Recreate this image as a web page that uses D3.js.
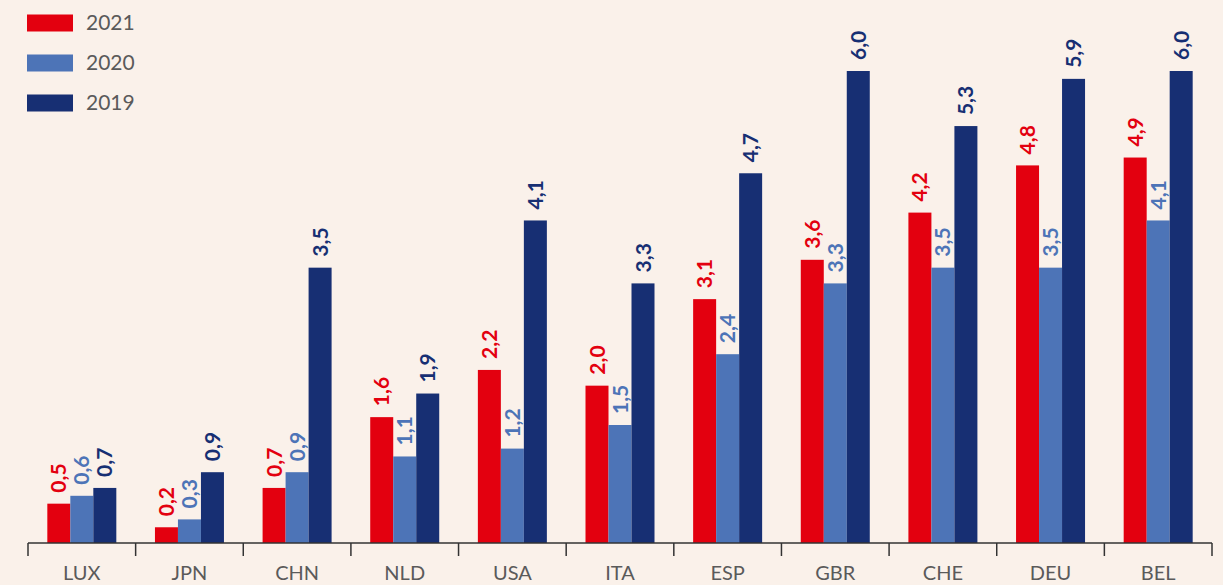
<!DOCTYPE html>
<html><head><meta charset="utf-8">
<script src="https://cdn.jsdelivr.net/npm/d3@7"></script>
<style>
html,body{margin:0;padding:0;background:#faf1ea;}
svg{display:block;}
</style></head>
<body>
<svg id="chart" width="1223" height="585"></svg>
<script>
const categories = ["LUX","JPN","CHN","NLD","USA","ITA","ESP","GBR","CHE","DEU","BEL"];
const seriesNames = ["2021","2020","2019"];
const values2021 = [0.5,0.2,0.7,1.6,2.2,2.0,3.1,3.6,4.2,4.8,4.9];
const values2020 = [0.6,0.3,0.9,1.1,1.2,1.5,2.4,3.3,3.5,3.5,4.1];
const values2019 = [0.7,0.9,3.5,1.9,4.1,3.3,4.7,6.0,5.3,5.9,6.0];
const colors = {"2021":"#e3000f","2020":"#4d74b7","2019":"#172f73"};

const seriesValues = {"2021":values2021,"2020":values2020,"2019":values2019};
const svg = d3.select("#chart");
svg.append("rect").attr("width",1223).attr("height",585).attr("fill","#faf1ea");

const baseY = 543;
const x0 = d3.scaleBand().domain(categories).range([28,1212]).padding(0);
const x1 = d3.scaleBand().domain(seriesNames).range([0,x0.bandwidth()]).paddingInner(0).paddingOuter(0.84);
const y = d3.scaleLinear().domain([0,6]).range([baseY,71]);

const data = [];
categories.forEach((c,i)=>seriesNames.forEach(s=>data.push({cat:c,s:s,v:seriesValues[s][i]})));

const g = svg.append("g");
g.selectAll("rect.bar").data(data).join("rect").attr("class","bar")
  .attr("x",d=>x0(d.cat)+x1(d.s))
  .attr("width",x1.bandwidth())
  .attr("y",d=>y(d.v))
  .attr("height",d=>baseY-y(d.v))
  .attr("fill",d=>colors[d.s]);

g.selectAll("text.val").data(data).join("text").attr("class","val")
  .attr("transform",d=>`translate(${x0(d.cat)+x1(d.s)+x1.bandwidth()/2},${y(d.v)-11}) rotate(-90)`)
  .attr("dy","0.36em")
  .attr("text-anchor","start")
  .attr("font-family","Lato, sans-serif")
  .attr("font-weight",700)
  .attr("font-size",21)
  .attr("fill",d=>colors[d.s])
  .text(d=>d3.format(".1f")(d.v).replace(".",","));

// axis
const axis = svg.append("g");
axis.append("line").attr("x1",28).attr("x2",1212).attr("y1",baseY).attr("y2",baseY)
  .attr("stroke","#333").attr("stroke-width",1.5);
const bounds = categories.map(c=>x0(c)).concat([x0.range()[1]]);
axis.selectAll("line.tick").data(bounds).join("line").attr("class","tick")
  .attr("x1",d=>d).attr("x2",d=>d).attr("y1",baseY).attr("y2",baseY+13)
  .attr("stroke","#333").attr("stroke-width",1.5);
axis.selectAll("text.cat").data(categories).join("text").attr("class","cat")
  .attr("x",d=>x0(d)+x0.bandwidth()/2).attr("y",580)
  .attr("text-anchor","middle")
  .attr("font-family","Lato, sans-serif").attr("font-weight",400).attr("font-size",20)
  .attr("fill","#5a5a5a").text(d=>d);

// legend
const leg = svg.append("g");
seriesNames.forEach((s,i)=>{
  const cy = 23 + i*40;
  leg.append("rect").attr("x",27).attr("y",cy-8.5).attr("width",46).attr("height",17).attr("fill",colors[s]);
  leg.append("text").attr("x",86).attr("y",cy).attr("dy","0.35em")
    .attr("font-family","Lato, sans-serif").attr("font-weight",400).attr("font-size",21).attr("fill","#5a5a5a").text(s);
});
</script>
</body></html>
